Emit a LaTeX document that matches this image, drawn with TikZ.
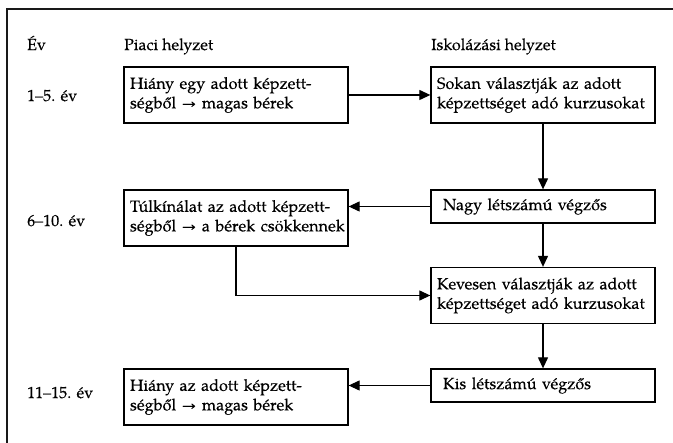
\documentclass[tikz,border=0pt]{standalone}
\usepackage{fontspec}
\setmainfont{texgyrepagella-regular.otf}[FakeBold=0.3]
\usetikzlibrary{arrows.meta}

\tikzset{
  frameline/.style={line width=1.5pt, draw=black!90},
  flowbox/.style={draw, line width=1.3pt, minimum width=224pt, text width=212pt,
    inner xsep=6pt, align=left, font=\fontsize{16.2}{19.5}\selectfont\bfseries},
  twoline/.style={flowbox, minimum height=56pt},
  oneline/.style={flowbox, minimum height=33pt, text width=200pt, inner xsep=12pt},
  label/.style={anchor=base west, inner sep=0pt, font=\fontsize{16}{19}\selectfont\bfseries},
  link/.style={line width=1.2pt, -{Triangle[length=11pt,width=10pt]}}
}

\begin{document}
\begin{tikzpicture}[x=1pt, y=-1pt]
  \useasboundingbox[fill=white] (0,0) rectangle (673,443);

  % open frame: top and left rules
  \draw[frameline] (7,443) -- (7,9) -- (673,9);

  % column headings
  \node[label] (hYear)   at (27,50)  {Év};
  \node[label] (hMarket) at (124,50) {Piaci helyzet};
  \node[label] (hSchool) at (431,50) {Iskolázási helyzet};

  % period labels
  \node[label] (p1) at (27,101) {1–5. év};
  \node[label] (p2) at (27,226) {6–10. év};
  \node[label] (p3) at (27,398) {11–15. év};

  % market column
  \node[twoline] (m1) at (236,95)  {\mbox{Hiány egy adott képzett-}\\\mbox{ségből → magas bérek}};
  \node[twoline] (m2) at (236,218) {\mbox{Túlkínálat az adott képzett-}\\\mbox{ségből → a bérek csökkennek}};
  \node[twoline] (m3) at (236,397) {\mbox{Hiány az adott képzett-}\\\mbox{ségből → magas bérek}};

  % schooling column
  \node[twoline] (s1) at (543,95)    {\mbox{Sokan választják az adott}\\\mbox{képzettséget adó kurzusokat}};
  \node[oneline] (s2) at (543,206.5) {Nagy létszámú végzős};
  \node[twoline] (s3) at (543,295.5) {\mbox{Kevesen választják az adott}\\\mbox{képzettséget adó kurzusokat}};
  \node[oneline] (s4) at (543,385.5) {Kis létszámú végzős};

  % connectors
  \draw[link] (m1.east) -- (s1.west);
  \draw[link] (s1.south) -- (s2.north);
  \draw[link] (s2.west) -- (s2.west -| m2.east);
  \draw[link] (s2.south) -- (s3.north);
  \draw[link] (m2.south) |- (s3.west);
  \draw[link] (s3.south) -- (s4.north);
  \draw[link] (s4.west) -- (s4.west -| m3.east);
\end{tikzpicture}
\end{document}
